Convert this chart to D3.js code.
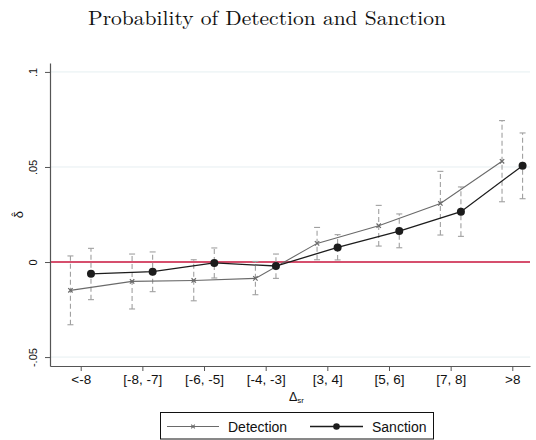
<!DOCTYPE html>
<html>
<head>
<meta charset="utf-8">
<script src="https://cdn.jsdelivr.net/npm/d3@7"></script>
<style>
  html, body { margin: 0; padding: 0; background: #fff; }
  svg { display: block; }
</style>
</head>
<body>
<script>
// Group labels along the horizontal axis
const categories = ["<-8", "[-8, -7]", "[-6, -5]", "[-4, -3]", "[3, 4]", "[5, 6]", "[7, 8]", ">8"];

// Estimated effects and 95% confidence bounds per group
const detection   = [-0.0149, -0.0102, -0.0097, -0.0086, 0.0098, 0.0191, 0.0308, 0.0530];
const detectionLo = [-0.0330, -0.0247, -0.0204, -0.0172, 0.0012, 0.0084, 0.0142, 0.0317];
const detectionHi = [ 0.0032,  0.0042,  0.0012,  0.0003, 0.0182, 0.0298, 0.0477, 0.0744];

const sanction    = [-0.0062, -0.0051, -0.0005, -0.0021, 0.0077, 0.0163, 0.0265, 0.0507];
const sanctionLo  = [-0.0198, -0.0156, -0.0084, -0.0086, 0.0011, 0.0075, 0.0135, 0.0333];
const sanctionHi  = [ 0.0072,  0.0053,  0.0074,  0.0042, 0.0144, 0.0253, 0.0395, 0.0679];

const yTicks = [-0.05, 0, 0.05, 0.1];
const yTickLabels = ["-.05", "0", ".05", ".1"];

const W = 536, H = 440;
const plotLeft = 50, plotRight = 530, plotTop = 63, plotBottom = 366;

const svg = d3.select("body").append("svg")
  .attr("width", W).attr("height", H);

const x = d3.scaleLinear().domain([0.502, 8.287]).range([plotLeft, plotRight]);
const y = d3.scaleLinear().domain([-0.0547, 0.1047]).range([plotBottom, plotTop]);

const sans = "'Liberation Sans', Arial, Helvetica, sans-serif";

// Title
svg.append("text")
  .attr("x", 267).attr("y", 25)
  .attr("text-anchor", "middle")
  .attr("font-family", "'Latin Modern Roman', 'Liberation Serif', 'DejaVu Serif', serif")
  .attr("font-size", 20)
  .attr("textLength", 358)
  .attr("lengthAdjust", "spacingAndGlyphs")
  .attr("fill", "#111")
  .text("Probability of Detection and Sanction");

// Horizontal grid lines
svg.append("g").selectAll("line")
  .data(yTicks.filter(d => d !== 0))
  .join("line")
  .attr("x1", plotLeft).attr("x2", plotRight)
  .attr("y1", d => y(d)).attr("y2", d => y(d))
  .attr("stroke", "#e6eff1").attr("stroke-width", 1);

// Reference line at zero
svg.append("line")
  .attr("x1", plotLeft).attr("x2", plotRight)
  .attr("y1", y(0)).attr("y2", y(0))
  .attr("stroke", "#c8143c").attr("stroke-width", 1.4);

// Y axis
const yAxis = svg.append("g")
  .attr("transform", `translate(${plotLeft},0)`)
  .call(d3.axisLeft(y).tickValues(yTicks)
    .tickFormat((d, i) => yTickLabels[i]).tickSize(5).tickSizeOuter(0));
yAxis.select(".domain").attr("stroke", "#555").attr("stroke-width", 1.2);
yAxis.selectAll(".tick line").attr("stroke", "#555");
yAxis.selectAll(".tick text")
  .attr("font-family", sans).attr("font-size", 11).attr("fill", "#111")
  .attr("text-anchor", "middle")
  .attr("x", 0).attr("dy", 0)
  .attr("transform", "translate(-13.5,0) rotate(-90)");

// X axis
const xAxis = svg.append("g")
  .attr("transform", `translate(0,${plotBottom})`)
  .call(d3.axisBottom(x).tickValues(d3.range(1, categories.length + 1))
    .tickFormat(d => categories[d - 1]).tickSize(5).tickSizeOuter(0));
xAxis.select(".domain").attr("stroke", "#555").attr("stroke-width", 1.2);
xAxis.selectAll(".tick line").attr("stroke", "#555");
xAxis.selectAll(".tick text")
  .attr("font-family", sans).attr("font-size", 13.5).attr("fill", "#111")
  .attr("y", 8);

// Y axis title: delta with a hat accent
const yt = svg.append("g")
  .attr("transform", `translate(23,${(plotTop + plotBottom) / 2}) rotate(-90)`);
yt.append("text")
  .attr("text-anchor", "middle")
  .attr("font-family", sans).attr("font-size", 13).attr("fill", "#111")
  .text("δ");
yt.append("text")
  .attr("text-anchor", "middle").attr("y", -3)
  .attr("font-family", sans).attr("font-size", 11).attr("fill", "#111")
  .text("ˆ");

// X axis title
const xt = svg.append("text")
  .attr("x", 289).attr("y", 400.5)
  .attr("font-family", sans).attr("font-size", 12.5).attr("fill", "#111");
xt.append("tspan").text("Δ");
xt.append("tspan").attr("font-size", 8).attr("dy", 2.5).text("sr");

// Series definitions
const series = [
  { name: "Detection", vals: detection, lo: detectionLo, hi: detectionHi, off: -1 / 6,
    color: "#6a6a6a", width: 1.1, marker: "x" },
  { name: "Sanction", vals: sanction, lo: sanctionLo, hi: sanctionHi, off: 1 / 6,
    color: "#1c1c1c", width: 1.3, marker: "dot" }
];

// Confidence intervals: dashed spikes with caps
series.forEach(s => {
  const g = svg.append("g");
  const idx = d3.range(s.vals.length);
  g.selectAll("line.spike").data(idx).join("line")
    .attr("class", "spike")
    .attr("x1", i => x(i + 1 + s.off)).attr("x2", i => x(i + 1 + s.off))
    .attr("y1", i => y(s.lo[i])).attr("y2", i => y(s.hi[i]))
    .attr("stroke", "#a0a0a0").attr("stroke-width", 1.1)
    .attr("stroke-dasharray", "5,3");
  ["lo", "hi"].forEach(k => {
    g.selectAll("line.cap-" + k).data(idx).join("line")
      .attr("class", "cap-" + k)
      .attr("x1", i => x(i + 1 + s.off) - 3).attr("x2", i => x(i + 1 + s.off) + 3)
      .attr("y1", i => y(s[k][i])).attr("y2", i => y(s[k][i]))
      .attr("stroke", "#a0a0a0").attr("stroke-width", 1.1);
  });
});

// Lines and markers
series.forEach(s => {
  const line = d3.line().x((d, i) => x(i + 1 + s.off)).y(d => y(d));
  svg.append("path").datum(s.vals)
    .attr("d", line).attr("fill", "none")
    .attr("stroke", s.color).attr("stroke-width", s.width);
  const g = svg.append("g");
  if (s.marker === "dot") {
    g.selectAll("circle").data(s.vals).join("circle")
      .attr("cx", (d, i) => x(i + 1 + s.off)).attr("cy", d => y(d))
      .attr("r", 4).attr("fill", s.color);
  } else {
    g.selectAll("path").data(s.vals).join("path")
      .attr("d", (d, i) => {
        const cx = x(i + 1 + s.off), cy = y(d), r = 2.2;
        return `M${cx - r},${cy - r}L${cx + r},${cy + r}M${cx - r},${cy + r}L${cx + r},${cy - r}`;
      })
      .attr("stroke", s.color).attr("stroke-width", 1.2).attr("fill", "none");
  }
});

// Legend
const lg = svg.append("g");
lg.append("rect")
  .attr("x", 160.5).attr("y", 412.5).attr("width", 273).attr("height", 26.5)
  .attr("fill", "#fff").attr("stroke", "#111").attr("stroke-width", 1);
const ly = 426.5;
const legendItems = [
  { s: series[0], x0: 167, x1: 219, tx: 228 },
  { s: series[1], x0: 310, x1: 363, tx: 372 }
];
legendItems.forEach(it => {
  lg.append("line").attr("x1", it.x0).attr("x2", it.x1).attr("y1", ly).attr("y2", ly)
    .attr("stroke", it.s.color).attr("stroke-width", it.s.width);
  const cx = (it.x0 + it.x1) / 2;
  if (it.s.marker === "dot") {
    lg.append("circle").attr("cx", cx).attr("cy", ly).attr("r", 3.3).attr("fill", it.s.color);
  } else {
    const r = 1.8;
    lg.append("path")
      .attr("d", `M${cx - r},${ly - r}L${cx + r},${ly + r}M${cx - r},${ly + r}L${cx + r},${ly - r}`)
      .attr("stroke", it.s.color).attr("stroke-width", 1.1);
  }
  lg.append("text").attr("x", it.tx).attr("y", ly + 5)
    .attr("font-family", sans).attr("font-size", 14).attr("fill", "#111")
    .text(it.s.name);
});
</script>
</body>
</html>
